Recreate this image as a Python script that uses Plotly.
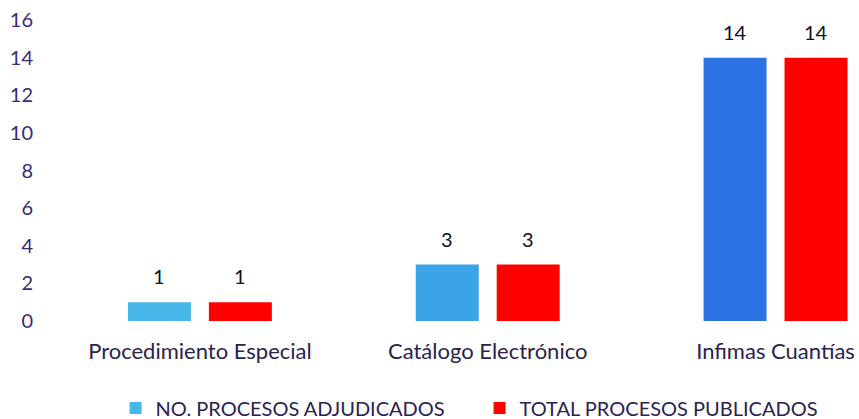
import plotly.graph_objects as go

categories = ["Procedimiento Especial", "Catálogo Electrónico", "Infimas Cuantías"]
adjudicados = [1, 3, 14]
publicados = [1, 3, 14]
series_names = ["NO. PROCESOS ADJUDICADOS", "TOTAL PROCESOS PUBLICADOS"]
y_ticks = [0, 2, 4, 6, 8, 10, 12, 14, 16]

blue_colors = ["#48b8e8", "#3aa4e6", "#2d72e2"]
red_color = "#ff0000"
text_color = "#2a2350"
font_family = "Lato, 'Open Sans', sans-serif"

fig = go.Figure()
fig.add_trace(go.Bar(name=series_names[0], x=categories, y=adjudicados,
                     marker=dict(color=blue_colors, line=dict(width=0))))
fig.add_trace(go.Bar(name=series_names[1], x=categories, y=publicados,
                     marker=dict(color=red_color, line=dict(width=0))))

annotations = []
for cat, a, p in zip(categories, adjudicados, publicados):
    annotations.append(dict(x=cat, y=a, text=str(a), showarrow=False, xshift=-40.5,
                            yanchor="middle", yshift=26,
                            font=dict(size=20, color="#111122", family=font_family)))
    annotations.append(dict(x=cat, y=p, text=str(p), showarrow=False, xshift=40.5,
                            yanchor="middle", yshift=26,
                            font=dict(size=20, color="#111122", family=font_family)))

fig.update_layout(
    width=859, height=419,
    margin=dict(l=56, r=0, t=20, b=98, autoexpand=False),
    paper_bgcolor="white", plot_bgcolor="white",
    barmode="group", bargap=0.4375, bargroupgap=0.222,
    font=dict(family=font_family, size=20, color=text_color),
    showlegend=True,
    legend=dict(orientation="h", x=0.5275, xanchor="center", y=-0.289, yanchor="middle",
                font=dict(size=20, color=text_color), itemwidth=30,
                traceorder="normal", entrywidth=319),
    annotations=annotations,
)
fig.update_xaxes(range=[-0.5, 2.29], showgrid=False, showline=False, ticks="",
                 automargin=False, ticklabelstandoff=15,
                 tickfont=dict(size=22, color=text_color))
fig.update_yaxes(range=[0, 16], tickvals=y_ticks, showgrid=False, showline=False,
                 zeroline=False, ticks="", automargin=False, ticklabelstandoff=22,
                 tickfont=dict(size=20, color="#3b2a78"))

fig.write_html("out.html", config={"displayModeBar": False},
               post_script="document.body.style.margin='0';document.body.style.padding='0';")
